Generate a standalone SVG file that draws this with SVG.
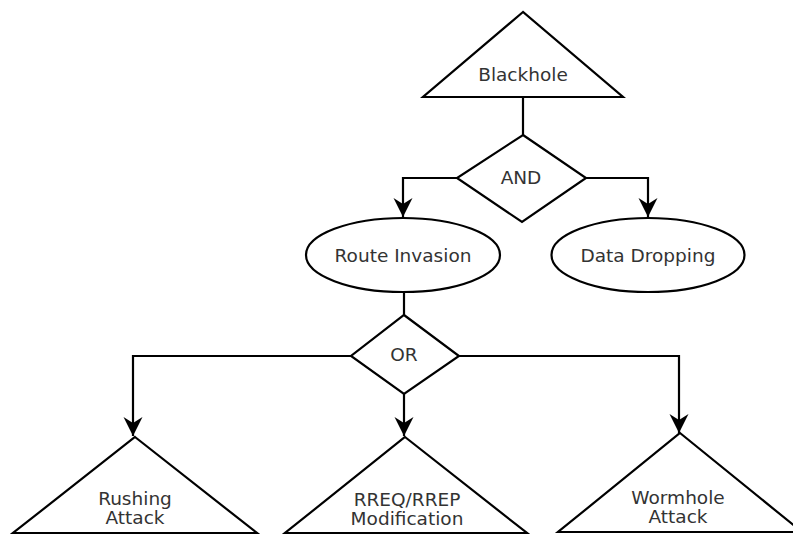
<svg xmlns="http://www.w3.org/2000/svg" width="793" height="535" viewBox="0 0 793 535">
<style>
.shape{fill:#ffffff;stroke:#000000;stroke-width:2.2;stroke-linejoin:miter}
.conn{fill:none;stroke:#000000;stroke-width:2.2}
.lbl{font-family:"DejaVu Sans",sans-serif;font-size:18.5px;fill:#333333;text-anchor:middle}
.lbl2{font-family:"DejaVu Sans",sans-serif;font-size:18.5px;fill:#333333;text-anchor:middle}
</style>
<defs>
<marker id="arr" viewBox="-20 -11 22 22" refX="0" refY="0" markerWidth="22" markerHeight="22" markerUnits="userSpaceOnUse" orient="auto">
<path d="M0,0 L-19,-9.5 L-13,0 L-19,9.5 Z" fill="#000000"/>
</marker>
</defs>
<rect width="793" height="535" fill="#ffffff"/>
<g id="connectors">
<path class="conn" d="M523,97 L523,135"/>
<path class="conn" d="M457,178 L403,178 L403,217" marker-end="url(#arr)"/>
<path class="conn" d="M586,178 L648,178 L648,217" marker-end="url(#arr)"/>
<path class="conn" d="M404,292 L404,315"/>
<path class="conn" d="M351,356 L133,356 L133,436" marker-end="url(#arr)"/>
<path class="conn" d="M404,394 L404,436" marker-end="url(#arr)"/>
<path class="conn" d="M459,356 L679,356 L679,433" marker-end="url(#arr)"/>
</g>
<g id="blackhole">
<polygon class="shape" points="523,12 423,97 623,97"/>
<text class="lbl" x="523" y="81">Blackhole</text>
</g>
<g id="and">
<polygon class="shape" points="523,135 586,178 522,222 457,178"/>
<text class="lbl" x="521" y="184">AND</text>
</g>
<g id="route-invasion">
<ellipse class="shape" cx="403" cy="255" rx="97" ry="37"/>
<text class="lbl" x="403" y="262">Route Invasion</text>
</g>
<g id="data-dropping">
<ellipse class="shape" cx="648" cy="255" rx="96.5" ry="37"/>
<text class="lbl" x="648" y="262">Data Dropping</text>
</g>
<g id="or">
<polygon class="shape" points="404,315 459,356 404,394 351,356"/>
<text class="lbl" x="404" y="361">OR</text>
</g>
<g id="rushing">
<polygon class="shape" points="135,437 257,533 13,533"/>
<text class="lbl2" x="135" y="505">Rushing</text>
<text class="lbl2" x="135" y="524">Attack</text>
</g>
<g id="rreq">
<polygon class="shape" points="405,437 527,533 285,533"/>
<text class="lbl2" x="407" y="506">RREQ/RREP</text>
<text class="lbl2" x="407" y="525">Modification</text>
</g>
<g id="wormhole">
<polygon class="shape" points="680,433 802,532 558,532"/>
<text class="lbl2" x="678" y="504">Wormhole</text>
<text class="lbl2" x="678" y="523">Attack</text>
</g>
</svg>
